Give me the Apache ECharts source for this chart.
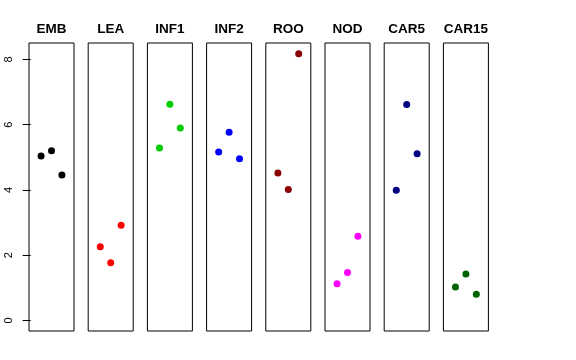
<!DOCTYPE html>
<html>
<head>
<meta charset="utf-8">
<script src="https://cdn.jsdelivr.net/npm/echarts@6/dist/echarts.min.js"></script>
<style>html,body{margin:0;padding:0;background:#fff}#c{width:576px;height:360px}</style>
</head>
<body>
<div id="c"></div>
<script>
// ---- data ----
const panels = ['EMB', 'LEA', 'INF1', 'INF2', 'ROO', 'NOD', 'CAR5', 'CAR15'];
const xPos = [1, 2, 3]; // jittered horizontal positions within each panel
const EMB = [5.04, 5.20, 4.46];
const LEA = [2.26, 1.77, 2.92];
const INF1 = [5.29, 6.63, 5.90];
const INF2 = [5.16, 5.77, 4.96];
const ROO = [4.52, 4.01, 8.18];
const NOD = [1.12, 1.47, 2.58];
const CAR5 = [3.99, 6.62, 5.11];
const CAR15 = [1.02, 1.42, 0.80];
const yTicks = [0, 2, 4, 6, 8];
const colors = ['#000000', '#FF0000', '#00CD00', '#0000FF', '#8B0000', '#FF00FF', '#000080', '#006400'];
const seriesValues = [EMB, LEA, INF1, INF2, ROO, NOD, CAR5, CAR15];

// ---- layout ----
const gLeft0 = 29, gStep = 59.2, gW = 45, gTop = 43, gH = 288;
const yMin = -0.327, yMax = 8.507;

const grids = [], xAxes = [], yAxes = [], series = [], titles = [];
panels.forEach((name, i) => {
  grids.push({
    left: gLeft0 + i * gStep, top: gTop, width: gW, height: gH,
    show: true, borderColor: '#000', borderWidth: 1, backgroundColor: 'transparent'
  });
  xAxes.push({ type: 'value', gridIndex: i, min: -0.16, max: 4.16, show: false });
  yAxes.push({
    type: 'value', gridIndex: i, min: yMin, max: yMax,
    show: i === 0,
    splitLine: { show: false },
    axisLine: { show: false },
    axisTick: { show: i === 0, length: 8, lineStyle: { color: '#000', width: 1 }, customValues: yTicks },
    axisLabel: { show: i === 0, rotate: 90, fontSize: 11, color: '#000', margin: 15,
      fontFamily: 'Liberation Sans', customValues: yTicks }
  });
  series.push({
    type: 'scatter', xAxisIndex: i, yAxisIndex: i,
    symbol: 'circle', symbolSize: 7,
    itemStyle: { color: colors[i], opacity: 1 },
    data: xPos.map((x, k) => [x, seriesValues[i][k]]),
    silent: true
  });
  titles.push({
    text: name, left: gLeft0 + i * gStep + gW / 2, top: 29.7, textAlign: 'center', textVerticalAlign: 'middle',
    padding: 0,
    textStyle: { fontFamily: 'Liberation Sans', fontWeight: 'bold', fontSize: 13.5, color: '#000' }
  });
});

const chart = echarts.init(document.getElementById('c'), null, { renderer: 'canvas' });
chart.setOption({
  animation: false,
  backgroundColor: '#fff',
  title: titles,
  grid: grids,
  xAxis: xAxes,
  yAxis: yAxes,
  series: series
});
</script>
</body>
</html>
